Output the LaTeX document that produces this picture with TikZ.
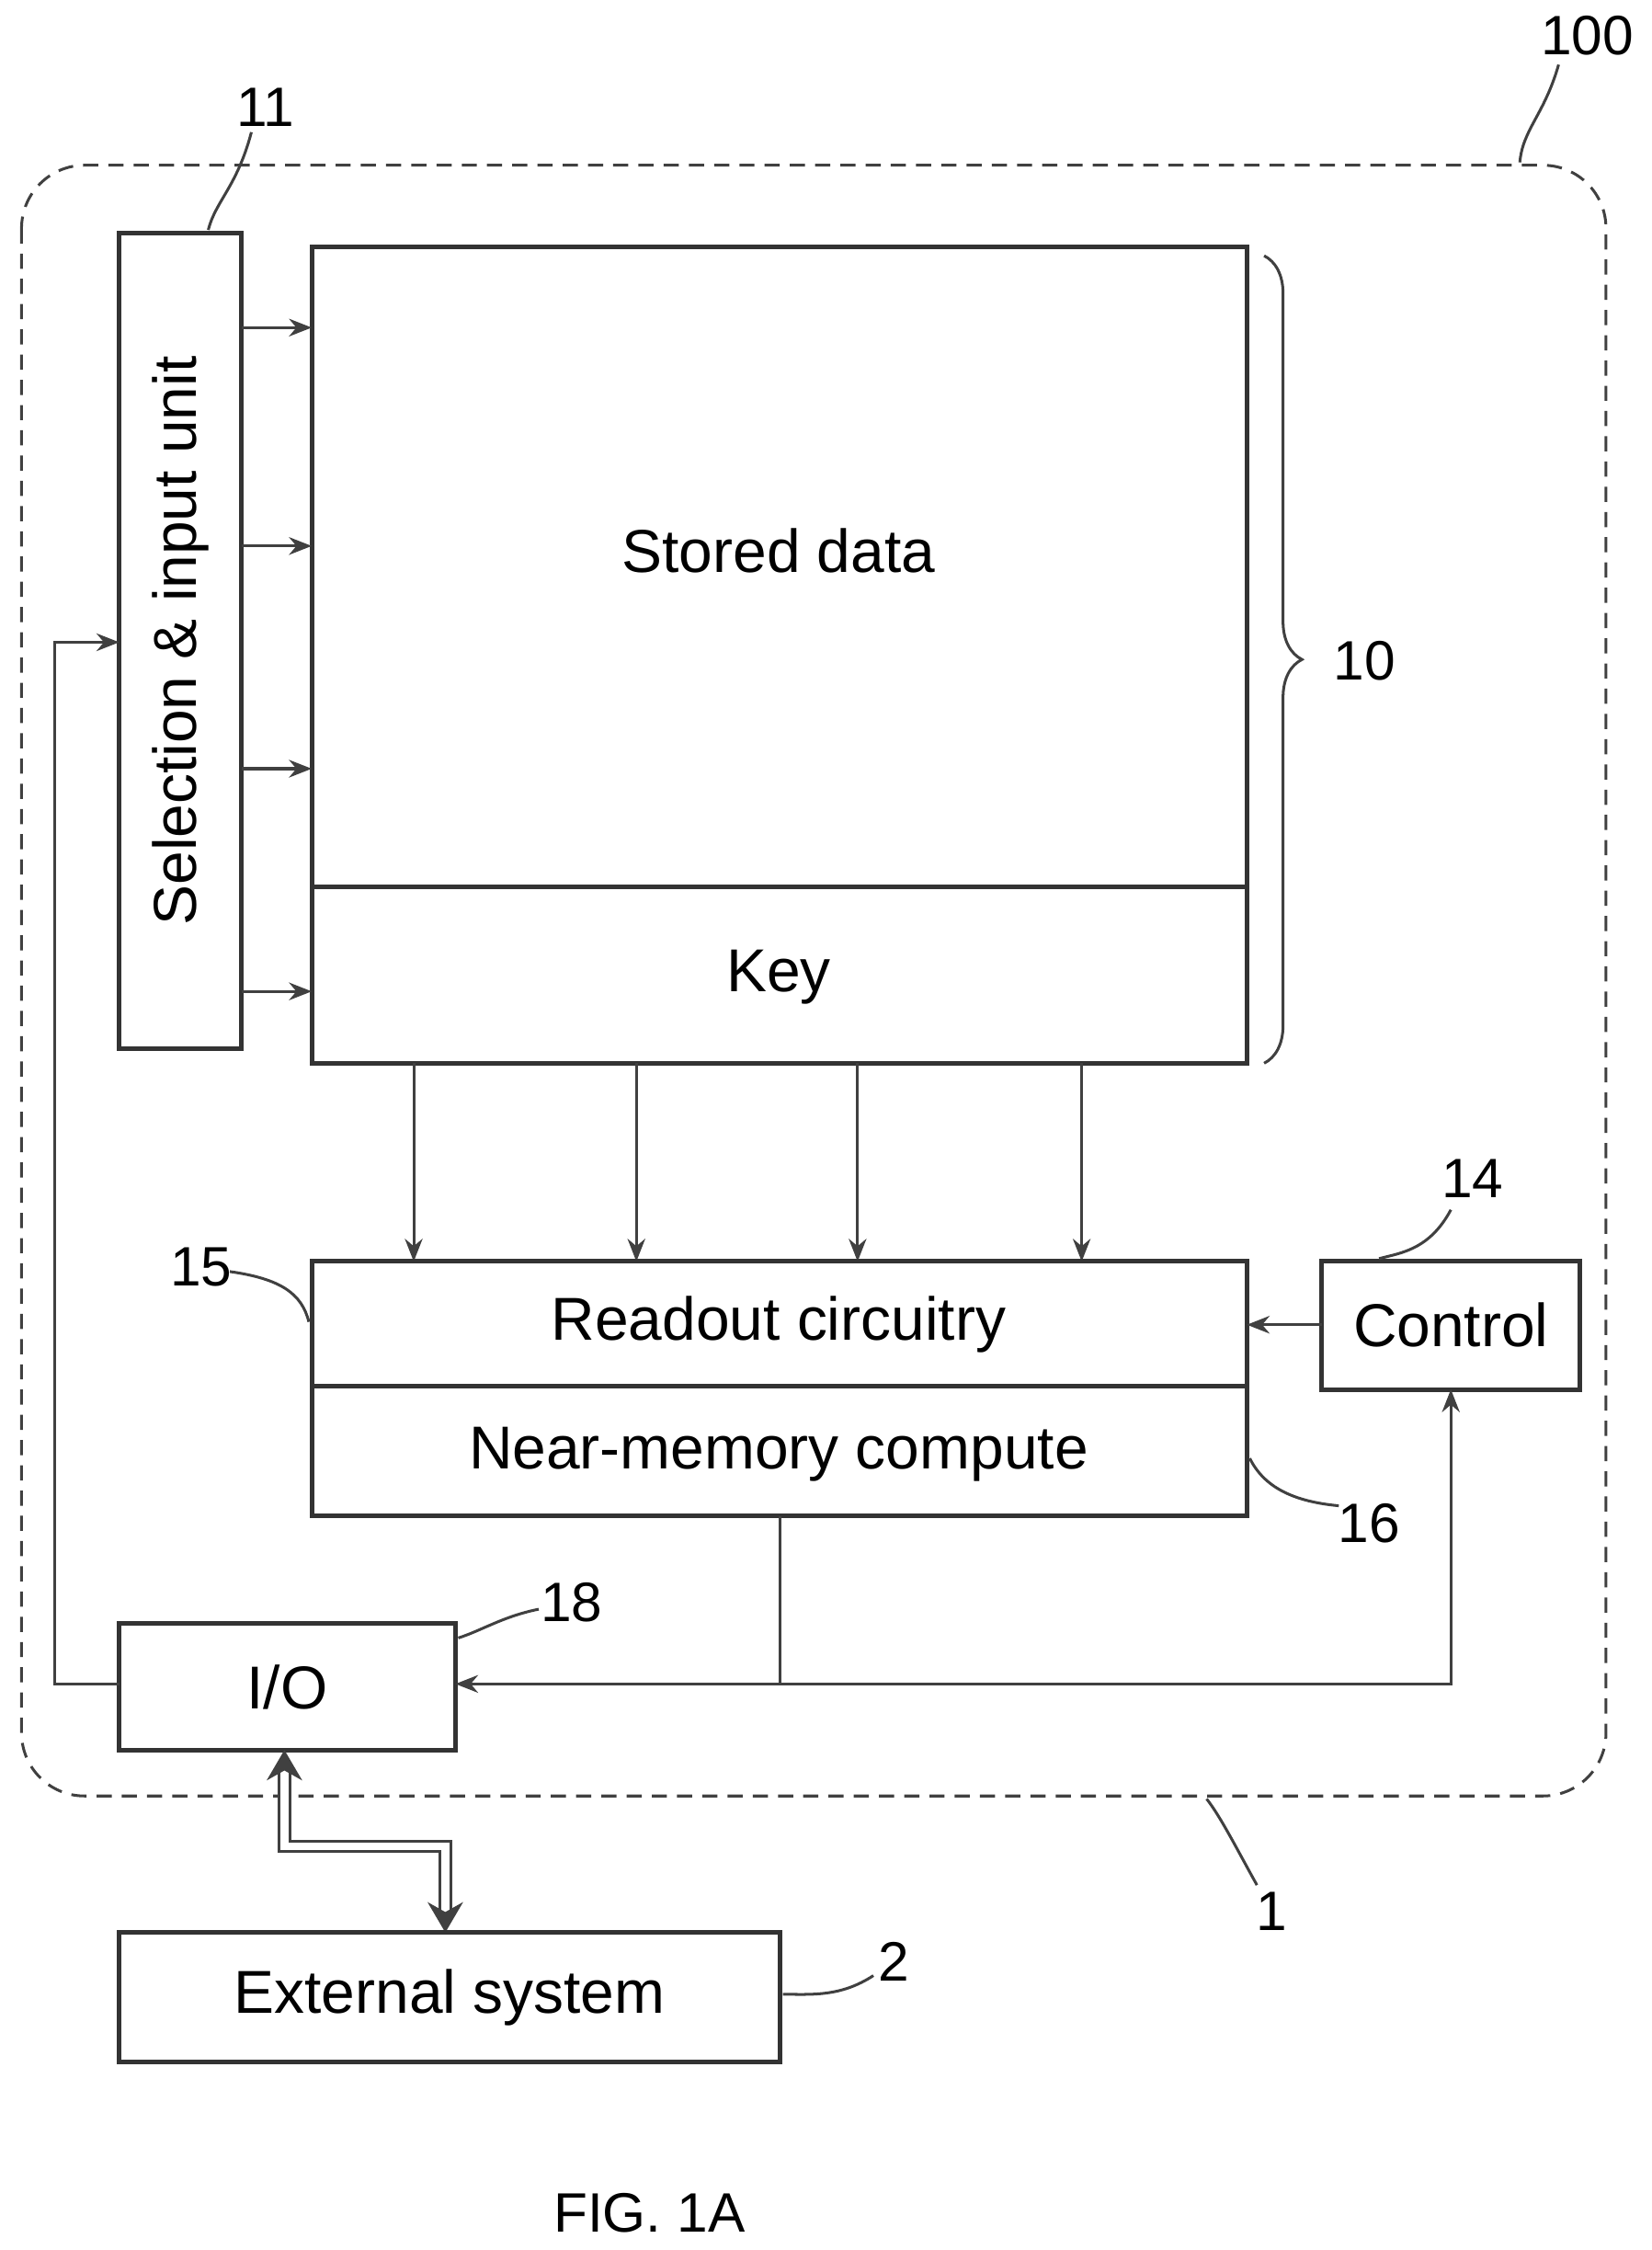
\documentclass[tikz,border=0pt]{standalone}
\usepackage{fontspec}
\setmainfont{Liberation Sans}
\usetikzlibrary{arrows.meta,decorations.pathreplacing}
\begin{document}
\begin{tikzpicture}[x=0.02cm,y=-0.02cm,
  box/.style={draw=black!80,line width=1.8pt,inner sep=0},
  arr/.style={draw=black!75,line width=1.1pt,-{Stealth[length=9pt,width=7pt]}},
  ln/.style={draw=black!75,line width=1.1pt},
  lab/.style={font=\fontsize{22}{26}\selectfont},
  txt/.style={font=\fontsize{24}{28}\selectfont}]
\useasboundingbox (0,0) rectangle (1150,1566);
% outer dashed
\draw[black!75,line width=1.1pt,dash pattern=on 6pt off 4pt,rounded corners=25pt] (15,115) rectangle (1118,1250);
\node[lab] (l100) at (1105,25) {100};
\draw[ln] (1085,45) .. controls (1075,80) and (1060,90) .. (1058,113);
% selection unit
\draw[box] (83,162) rectangle (168,730);
\node[txt,rotate=90] (sel) at (126,446) {Selection \& input unit};
\node[lab] (l11) at (185,75) {11};
\draw[ln] (175,92) .. controls (165,130) and (150,140) .. (145,160);
% memory
\draw[box] (217,172) rectangle (868,740);
\draw[box] (217,617) -- (868,617);
\node[txt] (sd) at (542,383) {Stored data};
\node[txt] (key) at (542,680) {Key};
\foreach \y in {228,380,535,690} \draw[arr] (168,\y) -- (217,\y);
\draw[ln,decorate,decoration={brace,amplitude=15pt}] (880,178) -- (880,740);
\node[lab] (l10) at (950,460) {10};
\foreach \x in {288,443,597,753} \draw[arr] (\x,740) -- (\x,878);
% readout
\draw[box] (217,878) rectangle (868,1055);
\draw[box] (217,965) -- (868,965);
\node[txt] (ro) at (542,922) {Readout circuitry};
\node[txt] (nm) at (542,1012) {Near-memory compute};
\node[lab] (l15) at (140,882) {15};
\draw[ln] (160,885) .. controls (195,890) and (210,900) .. (215,920);
\node[lab] (l16) at (953,1060) {16};
\draw[ln] (932,1048) .. controls (900,1045) and (880,1035) .. (870,1015);
% control
\draw[box] (920,878) rectangle (1100,967);
\node[txt] (ctl) at (1010,922) {Control};
\node[lab] (l14) at (1025,820) {14};
\draw[ln] (1010,842) .. controls (995,870) and (975,872) .. (960,876);
\draw[arr] (920,922) -- (868,922);
% I/O
\draw[box] (83,1130) rectangle (317,1218);
\node[txt] (io) at (200,1174) {I/O};
\node[lab] (l18) at (398,1115) {18};
\draw[ln] (375,1120) .. controls (350,1125) and (335,1135) .. (319,1140);
\draw[ln] (543,1055) -- (543,1172);
\draw[arr] (543,1172) -- (317,1172);
\draw[arr] (543,1172) -- (1010,1172) -- (1010,967);
\draw[arr] (83,1172) -- (38,1172) -- (38,447) -- (83,447);
% double arrow
\draw[black!75,double=white,double distance=3pt,line width=1.2pt,{Stealth[length=12pt,width=14pt]}-{Stealth[length=12pt,width=14pt]}] (198,1218) -- (198,1285) -- (310,1285) -- (310,1345);
% external
\draw[box] (83,1345) rectangle (543,1435);
\node[txt] (ext) at (313,1390) {External system};
\node[lab] (l2) at (622,1365) {2};
\draw[ln] (608,1375) .. controls (585,1390) and (565,1388) .. (545,1388);
\node[lab] (l1) at (885,1330) {1};
\draw[ln] (875,1312) .. controls (860,1285) and (850,1265) .. (840,1252);
\node[lab] (fig) at (452,1540) {FIG. 1A};
\end{tikzpicture}
\end{document}
